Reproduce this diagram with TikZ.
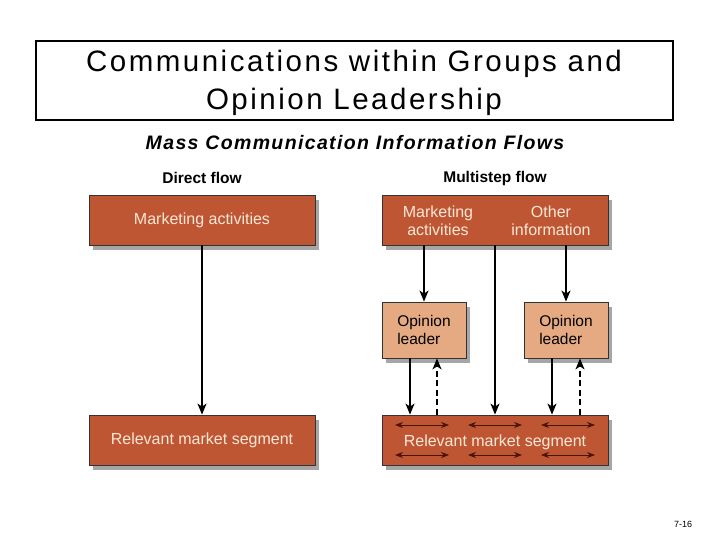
\documentclass[tikz,border=0pt]{standalone}
\usepackage{fontspec}
\setmainfont{Liberation Sans}
\usetikzlibrary{arrows.meta,shadows}

\definecolor{rust}{RGB}{190,86,52}
\definecolor{tan}{RGB}{230,170,130}
\definecolor{cream}{RGB}{250,232,214}
\definecolor{darkbrown}{RGB}{70,20,10}

\tikzset{
  box/.style={draw=black!80,line width=0.8pt,fill=rust,text=cream,font=\fontsize{16}{18}\selectfont,
    minimum width=226pt,minimum height=50pt,inner sep=0pt,
    drop shadow={shadow xshift=4pt,shadow yshift=-5pt,opacity=0.35,fill=black}},
  leader/.style={draw=black!80,line width=0.8pt,fill=tan,text=black,font=\fontsize{15.5}{18}\selectfont,
    minimum width=84pt,minimum height=56pt,inner sep=0pt,align=left,
    drop shadow={shadow xshift=4pt,shadow yshift=-5pt,opacity=0.35,fill=black}},
  intext/.style={text=cream,font=\fontsize{16}{18}\selectfont,align=center,inner sep=0pt},
  heading/.style={font=\fontsize{15.5}{17}\selectfont\bfseries},
  flow/.style={line width=1.3pt,-{Stealth[length=11pt,width=9pt,inset=3pt]}},
  back/.style={flow,dash pattern=on 6pt off 3.5pt},
  mix/.style={darkbrown,line width=0.9pt,{Stealth[length=8pt,width=6pt]}-{Stealth[length=8pt,width=6pt]}}
}

\begin{document}
\begin{tikzpicture}[x=1pt,y=-1pt]
    \useasboundingbox[fill=white] (0,0) rectangle (720,540);

    % title and subtitle
    \node[draw,line width=2.8pt,minimum width=637pt,minimum height=79pt] (title) at (354.5,80.5) {};
    \node[align=center,font=\fontsize{29.5}{38}\selectfont\addfontfeature{LetterSpace=8.5}] (titletext) at (354,83)
      {Communications within Groups and\\Opinion Leadership};
    \node[font=\fontsize{19.5}{22}\selectfont\bfseries\itshape\addfontfeature{LetterSpace=7}] (sub) at (355,143)
      {Mass Communication Information Flows};

    % direct flow
    \node[heading] (direct) at (202,178) {Direct flow};
    \node[box] (dtop) at (202,220) {Marketing activities};
    \node[box] (dseg) at (202,440) {Relevant market segment};
    \draw[flow] (dtop) -- (dseg);

    % multistep flow
    \node[heading] (multi) at (495,178) {Multistep flow};
    \node[box] (mtop) at (495,220) {};
    \node[intext] (mkt) at (438,221) {Marketing\\activities};
    \node[intext] (other) at (551,221) {Other\\information};
    \node[leader] (lead1) at (424,330) {Opinion\\leader};
    \node[leader] (lead2) at (566,330) {Opinion\\leader};
    \node[box] (mseg) at (495,440) {};
    \node[intext] (segtext) at (495,442) {Relevant market segment};

    \draw[flow] (mtop.south -| lead1) -- (lead1.north);
    \draw[flow] (mtop) -- (mseg);
    \draw[flow] (mtop.south -| lead2) -- (lead2.north);
    \draw[flow] ([xshift=-14pt]lead1.south) -- ([xshift=-14pt]lead1.south |- mseg.north);
    \draw[back] ([xshift=13pt]lead1.south |- mseg.north) -- ([xshift=13pt]lead1.south);
    \draw[flow] ([xshift=-14pt]lead2.south) -- ([xshift=-14pt]lead2.south |- mseg.north);
    \draw[back] ([xshift=14pt]lead2.south |- mseg.north) -- ([xshift=14pt]lead2.south);

    % exchange among the segment
    \foreach \dx in {-73,0,73} {
      \draw[mix] ([xshift=\dx pt-27pt,yshift=-15pt]mseg.center) -- ([xshift=\dx pt+27pt,yshift=-15pt]mseg.center);
      \draw[mix] ([xshift=\dx pt-27pt,yshift=15pt]mseg.center) -- ([xshift=\dx pt+27pt,yshift=15pt]mseg.center);
    }

    \node[font=\fontsize{9}{10}\selectfont] (page) at (683,524) {7-16};
\end{tikzpicture}
\end{document}
